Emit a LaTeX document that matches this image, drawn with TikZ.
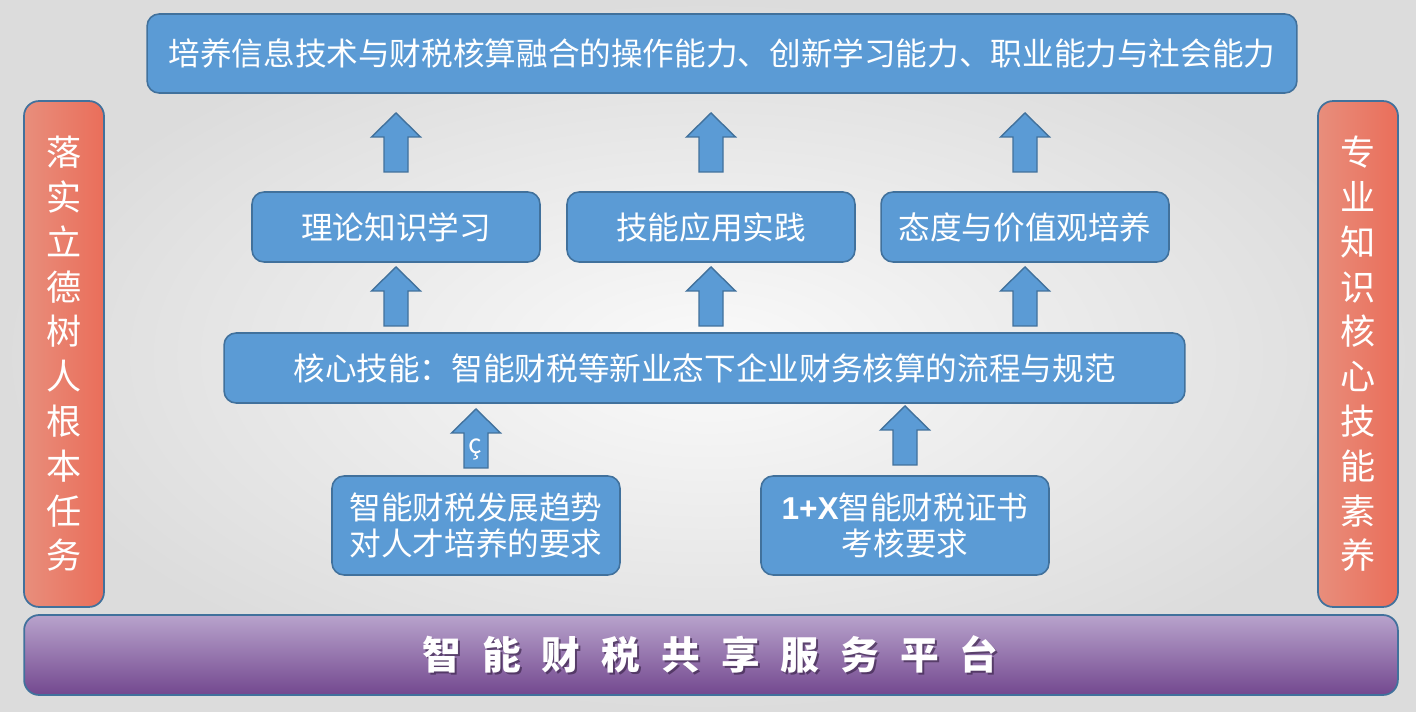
\documentclass[tikz,border=0pt]{standalone}
\usepackage{fontspec}
\setmainfont{Noto Sans CJK SC}
\newfontfamily\arialbold{Liberation Sans}
\definecolor{boxblue}{HTML}{5B9BD5}
\definecolor{boxedge}{HTML}{41719C}
\definecolor{sidelight}{RGB}{232,142,124}
\definecolor{sidedark}{RGB}{234,110,90}
\definecolor{bartop}{RGB}{184,163,204}
\definecolor{barbottom}{RGB}{115,72,143}
\definecolor{bgcenter}{RGB}{250,250,250}
\definecolor{bgedge}{RGB}{220,220,220}
\newcommand{\pgap}{\hspace{12pt}}
% block arrow pointing up, tip at (#1,#2)
\newcommand{\upblock}[2]{\draw[blockarrow] (#1,#2) -- ++(24.5,24) -- ++(-12.5,0) -- ++(0,35) -- ++(-24,0) -- ++(0,-35) -- ++(-12.5,0) -- cycle;}
\tikzset{
  bluebox/.style={draw=boxedge, line width=0.9pt, fill=boxblue, rounded corners=0.24cm,
    text=white, inner sep=0pt, align=center, font=\fontsize{18}{20.5}\selectfont},
  sidebox/.style={draw=boxedge, line width=1pt, left color=sidelight, right color=sidedark,
    rounded corners=0.3cm, text=white, inner sep=0pt, minimum width=1.6cm, minimum height=10.12cm,
    align=center, font=\fontsize{20}{25.5}\selectfont},
  platform/.style={draw=boxedge, line width=1pt, top color=bartop, bottom color=barbottom,
    rounded corners=0.3cm, minimum width=27.48cm, minimum height=1.6cm},
  blockarrow/.style={draw=boxedge, line width=0.8pt, fill=boxblue}
}
\begin{document}
\begin{tikzpicture}[x=0.02cm,y=-0.02cm]
\useasboundingbox (0,0) rectangle (1416,712);
% fond
\shade[inner color=bgcenter, outer color=bgedge] (0,0) rectangle (1416,712);
% objectif
\node[bluebox, minimum width=23cm, minimum height=1.58cm] (goal) at (722,53.5)
  {培养信息技术与财税核算融合的操作能力、创新学习能力、职业能力与社会能力};
% trois volets
\node[bluebox, minimum width=5.76cm, minimum height=1.4cm] (theory) at (396,227) {理论知识学习};
\node[bluebox, minimum width=5.76cm, minimum height=1.4cm] (practice) at (711,227) {技能应用实践};
\node[bluebox, minimum width=5.76cm, minimum height=1.4cm] (attitude) at (1025,227) {态度与价值观培养};
% compétence centrale
\node[bluebox, minimum width=19.22cm, minimum height=1.4cm] (core) at (704.5,368)
  {核心技能：智能财税等新业态下企业财务核算的流程与规范};
% exigences
\node[bluebox, minimum width=5.76cm, minimum height=1.98cm] (trend) at (476,525.5)
  {智能财税发展趋势\\对人才培养的要求};
\node[bluebox, minimum width=5.76cm, minimum height=1.98cm] (cert) at (905,525.5)
  {{\arialbold\bfseries 1+X}智能财税证书\\考核要求};
% flèches
\foreach \x in {396,711,1025} {
  \upblock{\x}{113}
  \upblock{\x}{267}
}
\upblock{476}{409}
\upblock{905}{406}
\node[text=white, font=\fontsize{15}{17}\selectfont, inner sep=0pt] (mark) at (475,449) {ç};
% colonnes latérales
\node[sidebox] (left) at (64,354) {落\\实\\立\\德\\树\\人\\根\\本\\任\\务};
\node[sidebox] (right) at (1358,354) {专\\业\\知\\识\\核\\心\\技\\能\\素\\养};
% plateforme
\node[platform] (base) at (711,655) {};
\node[text=barbottom!55!black, opacity=0.7, font=\fontsize{22}{26}\selectfont\bfseries] (baseshadow) at (712.5,656.5)
  {智\pgap 能\pgap 财\pgap 税\pgap 共\pgap 享\pgap 服\pgap 务\pgap 平\pgap 台};
\node[text=white, font=\fontsize{22}{26}\selectfont\bfseries] (basetext) at (710.5,654.5)
  {智\pgap 能\pgap 财\pgap 税\pgap 共\pgap 享\pgap 服\pgap 务\pgap 平\pgap 台};
\end{tikzpicture}
\end{document}
